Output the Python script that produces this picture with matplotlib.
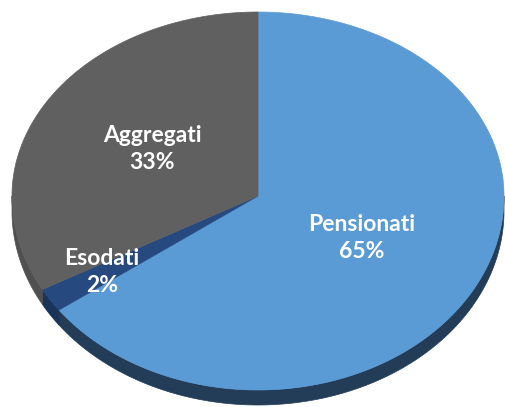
import numpy as np
import matplotlib
matplotlib.use("Agg")
import matplotlib.pyplot as plt
from matplotlib.patches import Polygon

categories = ["Pensionati", "Esodati", "Aggregati"]
values = [65, 2, 33]

top_colors = ["#5b9bd5", "#264a80", "#606060"]
side_colors = ["#233c58", "#1a3358", "#505050"]

W, H = 505, 407
fig = plt.figure(figsize=(W / 100, H / 100), dpi=100)
ax = fig.add_axes([0, 0, 1, 1])
ax.set_xlim(0, W)
ax.set_ylim(H, 0)
ax.axis("off")

cx, cy = 258, 196
rx = 246
ry_back, ry_front = 184, 194
depth = 15


def pt(theta_deg):
    t = np.radians(theta_deg)
    c = np.cos(t)
    ry = ry_back if c > 0 else ry_front
    return cx + rx * np.sin(t), cy - ry * c


def arc(t1, t2, n=200):
    ts = np.linspace(t1, t2, n)
    return np.array([pt(t) for t in ts])


total = float(sum(values))
bounds = np.concatenate([[0], np.cumsum(values) / total * 360])

# side walls (front half: theta in [90, 270])
for i in range(len(values)):
    a1, a2 = bounds[i], bounds[i + 1]
    s1, s2 = max(a1, 90), min(a2, 270)
    if s2 <= s1:
        continue
    top = arc(s1, s2)
    bot = top[::-1] + np.array([0, depth])
    poly = np.vstack([top, bot])
    ax.add_patch(Polygon(poly, closed=True, facecolor=side_colors[i],
                         edgecolor=side_colors[i], linewidth=0.5))

# top faces
for i in range(len(values)):
    a1, a2 = bounds[i], bounds[i + 1]
    pts = np.vstack([[cx, cy], arc(a1, a2)])
    ax.add_patch(Polygon(pts, closed=True, facecolor=top_colors[i],
                         edgecolor=top_colors[i], linewidth=0.5))

label_pos = [(362, 238), (102, 272), (152, 149)]
font = dict(color="white", fontweight="bold", fontsize=16.5, family="Lato",
            ha="center", va="center", linespacing=1.4)
for (x, y), name, v in zip(label_pos, categories, values):
    ax.text(x, y, f"{name}\n{v}%", **font)

fig.savefig("out.png", dpi=100)
